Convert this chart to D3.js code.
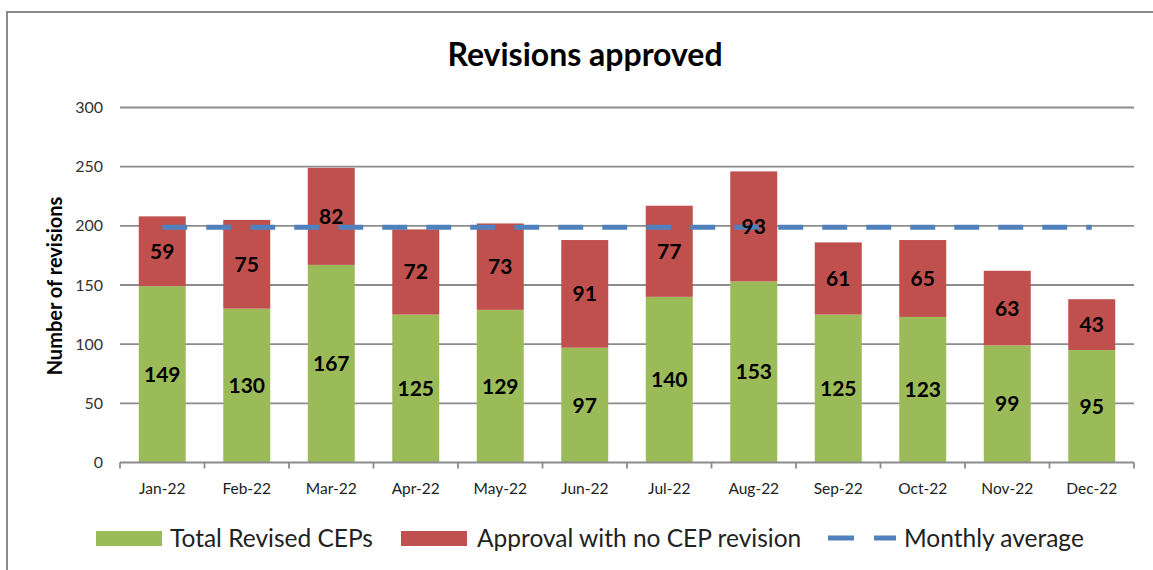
<!DOCTYPE html>
<html>
<head>
<meta charset="utf-8">
<script src="https://cdn.jsdelivr.net/npm/d3@7"></script>
<style>
  body { margin: 0; background: #fff; }
  svg { display: block; font-family: Lato, "Open Sans", sans-serif; }
</style>
</head>
<body>
<div id="chart"></div>
<script>
// data
const months = ["Jan-22","Feb-22","Mar-22","Apr-22","May-22","Jun-22","Jul-22","Aug-22","Sep-22","Oct-22","Nov-22","Dec-22"];
const totalRevised = [149,130,167,125,129,97,140,153,125,123,99,95];
const noRevision = [59,75,82,72,73,91,77,93,61,65,63,43];
const monthlyAverage = 198.8;
const yTicks = [0,50,100,150,200,250,300];
const seriesNames = ["Total Revised CEPs","Approval with no CEP revision","Monthly average"];

const colors = { green: "#9BBB59", red: "#C0504D", blue: "#4F81BD", grid: "#8c8c8c" };

const W = 1153, H = 570;
const plot = { left: 120, right: 1134, top: 107.5, bottom: 462.5 };

const svg = d3.select("#chart").append("svg")
  .attr("width", W).attr("height", H);

// outer frame
svg.append("rect")
  .attr("x", 7).attr("y", 12)
  .attr("width", W + 20).attr("height", H + 20)
  .attr("fill", "none").attr("stroke", "#8a8a8a").attr("stroke-width", 2);

// title
svg.append("text")
  .attr("x", 585).attr("y", 66)
  .attr("text-anchor", "middle")
  .style("font-size", "32px").style("font-weight", "bold")
  .text("Revisions approved");

const x = d3.scaleBand()
  .domain(months)
  .range([plot.left, plot.right])
  .paddingInner(0.444)
  .paddingOuter(0.222);

const y = d3.scaleLinear()
  .domain([0, 300])
  .range([plot.bottom, plot.top]);

// gridlines
svg.append("g").selectAll("line")
  .data(yTicks.filter(d => d > 0))
  .join("line")
  .attr("x1", plot.left).attr("x2", plot.right)
  .attr("y1", d => y(d)).attr("y2", d => y(d))
  .attr("stroke", colors.grid).attr("stroke-width", 1.8);

// y tick labels
svg.append("g").selectAll("text")
  .data(yTicks)
  .join("text")
  .attr("x", 103).attr("y", d => y(d) + 5.5)
  .attr("text-anchor", "end")
  .attr("fill", "#333")
  .style("font-size", "16px")
  .text(d => d);

// y axis title
svg.append("text")
  .attr("transform", "translate(62,286) rotate(-90)")
  .attr("text-anchor", "middle")
  .style("font-size", "20px").style("font-weight", "bold")
  .text("Number of revisions");

// stacked bars
const rows = months.map((m, i) => ({ month: m, total: totalRevised[i], none: noRevision[i] }));

svg.append("g").selectAll("rect")
  .data(rows)
  .join("rect")
  .attr("x", d => x(d.month)).attr("width", x.bandwidth())
  .attr("y", d => y(d.total)).attr("height", d => y(0) - y(d.total))
  .attr("fill", colors.green);

svg.append("g").selectAll("rect")
  .data(rows)
  .join("rect")
  .attr("x", d => x(d.month)).attr("width", x.bandwidth())
  .attr("y", d => y(d.total + d.none)).attr("height", d => y(d.total) - y(d.total + d.none))
  .attr("fill", colors.red);

// x axis line + category boundary ticks
const step = x.step();
const boundaries = d3.range(months.length + 1).map(i => plot.left + i * step);
svg.append("line")
  .attr("x1", plot.left).attr("x2", plot.right)
  .attr("y1", y(0)).attr("y2", y(0))
  .attr("stroke", colors.grid).attr("stroke-width", 1.8);
svg.append("g").selectAll("line")
  .data(boundaries)
  .join("line")
  .attr("x1", d => d).attr("x2", d => d)
  .attr("y1", y(0)).attr("y2", y(0) + 6)
  .attr("stroke", colors.grid).attr("stroke-width", 1.8);

svg.append("g").selectAll("text")
  .data(months)
  .join("text")
  .attr("x", d => x(d) + x.bandwidth() / 2).attr("y", 494)
  .attr("text-anchor", "middle")
  .attr("fill", "#222")
  .style("font-size", "15.5px")
  .text(d => d);

// monthly average dashed line
svg.append("line")
  .attr("x1", x(months[0]) + x.bandwidth() / 2)
  .attr("x2", x(months[months.length - 1]) + x.bandwidth() / 2)
  .attr("y1", y(monthlyAverage)).attr("y2", y(monthlyAverage))
  .attr("stroke", colors.blue).attr("stroke-width", 5)
  .attr("stroke-dasharray", "25,19");

// value labels
const labels = svg.append("g")
  .style("font-size", "21px").style("font-weight", "bold")
  .attr("text-anchor", "middle");

labels.selectAll(".lbl-green")
  .data(rows)
  .join("text")
  .attr("class", "lbl-green")
  .attr("x", d => x(d.month) + x.bandwidth() / 2)
  .attr("y", d => (y(0) + y(d.total)) / 2 + 7.5)
  .text(d => d.total);

labels.selectAll(".lbl-red")
  .data(rows)
  .join("text")
  .attr("class", "lbl-red")
  .attr("x", d => x(d.month) + x.bandwidth() / 2)
  .attr("y", d => (y(d.total) + y(d.total + d.none)) / 2 + 7.5)
  .text(d => d.none);

// legend
const legend = svg.append("g").style("font-size", "24.5px").attr("fill", "#222");

legend.append("rect").attr("x", 96).attr("y", 531).attr("width", 66).attr("height", 15).attr("fill", colors.green);
legend.append("text").attr("x", 170).attr("y", 547).text(seriesNames[0]);

legend.append("rect").attr("x", 401).attr("y", 531).attr("width", 66).attr("height", 15).attr("fill", colors.red);
legend.append("text").attr("x", 477).attr("y", 547).text(seriesNames[1]);

legend.append("line")
  .attr("x1", 828).attr("x2", 896).attr("y1", 538).attr("y2", 538)
  .attr("stroke", colors.blue).attr("stroke-width", 5)
  .attr("stroke-dasharray", "26,20");
legend.append("text").attr("x", 904).attr("y", 547).text(seriesNames[2]);
</script>
</body>
</html>
